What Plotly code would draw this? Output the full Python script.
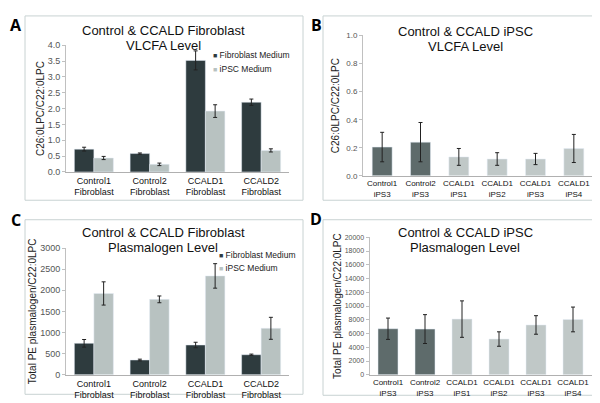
import plotly.graph_objects as go

# -----------------------------
# Data
# -----------------------------

fib_groups = ["Control1<br>Fibroblast", "Control2<br>Fibroblast",
              "CCALD1<br>Fibroblast", "CCALD2<br>Fibroblast"]
ips_groups = ["Control1<br>iPS3", "Control2<br>iPS3", "CCALD1<br>iPS1",
              "CCALD1<br>iPS2", "CCALD1<br>iPS3", "CCALD1<br>iPS4"]
media = ["Fibroblast Medium", "iPSC Medium"]

# A: VLCFA in fibroblasts
vlcfa_fib_med = [0.72, 0.58, 3.52, 2.20]
vlcfa_fib_med_err = [0.06, 0.02, 0.30, 0.10]
vlcfa_ipsc_med = [0.44, 0.24, 1.92, 0.68]
vlcfa_ipsc_med_err = [0.05, 0.04, 0.20, 0.05]

# B: VLCFA in iPSC
vlcfa_ips = [0.205, 0.24, 0.135, 0.12, 0.12, 0.195]
vlcfa_ips_err = [0.105, 0.14, 0.06, 0.045, 0.04, 0.10]

# C: plasmalogen in fibroblasts
plas_fib_med = [745, 350, 705, 475]
plas_fib_med_err = [90, 20, 65, 15]
plas_ipsc_med = [1925, 1785, 2340, 1100]
plas_ipsc_med_err = [275, 80, 290, 260]

# D: plasmalogen in iPSC
plas_ips = [6700, 6650, 8100, 5200, 7250, 8050]
plas_ips_err = [1550, 2100, 2650, 1050, 1350, 1800]

DARK = "#2e3b3e"
LIGHT = "#b8c2c1"
CTRL_IPS = "#5e6b6b"
CCALD_IPS = "#c0c8c7"
ips_colors = [CTRL_IPS] * 2 + [CCALD_IPS] * 4

FONT = "Liberation Sans, Arial, sans-serif"
W, H = 600, 403


def px(x):
    return x / W


def py(y):
    return 1 - y / H


def err(vals):
    return dict(type="data", array=vals, color="#222", thickness=1, width=2)


fig = go.Figure()

# -----------------------------
# Bars
# -----------------------------

fig.add_bar(x=fib_groups, y=vlcfa_fib_med, error_y=err(vlcfa_fib_med_err),
            name=media[0], marker_color=DARK, xaxis="x", yaxis="y")
fig.add_bar(x=fib_groups, y=vlcfa_ipsc_med, error_y=err(vlcfa_ipsc_med_err),
            name=media[1], marker_color=LIGHT, xaxis="x", yaxis="y")

fig.add_bar(x=ips_groups, y=vlcfa_ips, error_y=err(vlcfa_ips_err), width=0.52,
            marker_color=ips_colors, xaxis="x2", yaxis="y2")

fig.add_bar(x=fib_groups, y=plas_fib_med, error_y=err(plas_fib_med_err),
            name=media[0], marker_color=DARK, xaxis="x3", yaxis="y3")
fig.add_bar(x=fib_groups, y=plas_ipsc_med, error_y=err(plas_ipsc_med_err),
            name=media[1], marker_color=LIGHT, xaxis="x3", yaxis="y3")

fig.add_bar(x=ips_groups, y=plas_ips, error_y=err(plas_ips_err), width=0.54,
            marker_color=ips_colors, xaxis="x4", yaxis="y4")

fig.update_traces(showlegend=False)

# -----------------------------
# Axes
# -----------------------------

xcommon = dict(showline=True, linecolor="#b0b0b0", linewidth=1, ticks="",
               tickangle=0, tickfont=dict(size=9, color="#111", family=FONT),
               fixedrange=True)
ycommon = dict(showline=True, linecolor="#c0c0c0", linewidth=1,
               ticks="outside", ticklen=3, tickcolor="#c0c0c0",
               showgrid=False, zeroline=False,
               tickfont=dict(size=9, color="#555", family=FONT),
               title_font=dict(size=10, color="#222", family=FONT))

fig.update_layout(
    xaxis=dict(domain=[px(58), px(281)], anchor="y", **xcommon),
    yaxis=dict(domain=[py(163), py(33)], anchor="x", range=[0, 4], dtick=0.5,
               tickformat=".1f", title=dict(text="C26:0LPC/C22:0LPC", standoff=1),
               **ycommon),
    xaxis2=dict(domain=[px(355), px(585)], anchor="y2", **xcommon),
    yaxis2=dict(domain=[py(167), py(23)], anchor="x2", range=[0, 1], dtick=0.2,
                tickformat=".1f", title=dict(text="C26:0LPC/C22:0LPC", standoff=4),
                **ycommon),
    xaxis3=dict(domain=[px(58), px(281)], anchor="y3", **xcommon),
    yaxis3=dict(domain=[py(371), py(241)], anchor="x3", range=[0, 3000], dtick=500,
                tickformat="d",
                title=dict(text="Total PE plasmalogen/C22:0LPC", standoff=1),
                **ycommon),
    xaxis4=dict(domain=[px(361.5), px(583.5)], anchor="y4", **xcommon),
    yaxis4=dict(domain=[py(371), py(230)], anchor="x4", range=[0, 20000], dtick=2000,
                tickformat="d",
                title=dict(text="Total PE plasmalogen/C22:0LPC", standoff=1),
                **ycommon),
)
fig.update_layout(yaxis4_tickfont_size=7, yaxis2_tickfont_size=8,
                  xaxis2_tickfont_size=8, xaxis4_tickfont_size=8)

# -----------------------------
# Panel boxes, titles, letters, legends
# -----------------------------

boxes = [(17, 3, 295, 192), (315, 3, 594, 192), (17, 212, 295, 391), (315, 212, 595, 392)]
for x0, y0, x1, y1 in boxes:
    fig.add_shape(type="rect", xref="paper", yref="paper",
                  x0=px(x0), y0=py(y0), x1=px(x1), y1=py(y1),
                  line=dict(color="#c8d2d2", width=1), layer="below")

# two title lines per panel, tighter than plotly's default line height
titles = [
    (["Control & CCALD Fibroblast", "VLCFA Level"], 155, 18),
    (["Control & CCALD iPSC", "VLCFA Level"], 457, 19),
    (["Control & CCALD Fibroblast", "Plasmalogen Level"], 155, 225),
    (["Control & CCALD iPSC", "Plasmalogen Level"], 457, 225),
]
for lines, cx, cy in titles:
    for i, line in enumerate(lines):
        fig.add_annotation(text=line, x=px(cx), y=py(cy + 15 * i),
                           xref="paper", yref="paper", borderpad=0,
                           xanchor="center", yanchor="middle", showarrow=False,
                           font=dict(size=13, color="#111", family=FONT))

for letter, lx, ly in [("A", 8, 12), ("B", 308, 12), ("C", 8, 212), ("D", 308, 211)]:
    fig.add_annotation(text="<b>%s</b>" % letter, x=px(lx), y=py(ly),
                       xref="paper", yref="paper", showarrow=False,
                       xanchor="center", yanchor="middle",
                       font=dict(size=16, color="black", family="Open Sans"))

# legend rows (square marker + label) for panels A and C
for lx, ly in [(204, 43), (210, 248)]:
    for i, (name, col) in enumerate(zip(media, [DARK, LIGHT])):
        fig.add_annotation(
            text="<span style='color:%s;font-size:7px'>■</span> %s" % (col, name),
            x=px(lx), y=py(ly + 14 * i), xref="paper", yref="paper",
            xanchor="left", yanchor="middle", showarrow=False, borderpad=0,
            font=dict(size=8.5, color="#222", family=FONT))

fig.update_layout(
    width=W, height=H,
    margin=dict(l=0, r=0, t=0, b=0),
    paper_bgcolor="white", plot_bgcolor="white",
    barmode="group", bargap=0.3, bargroupgap=0,
    font=dict(family=FONT),
)

fig.write_html("out.html")
